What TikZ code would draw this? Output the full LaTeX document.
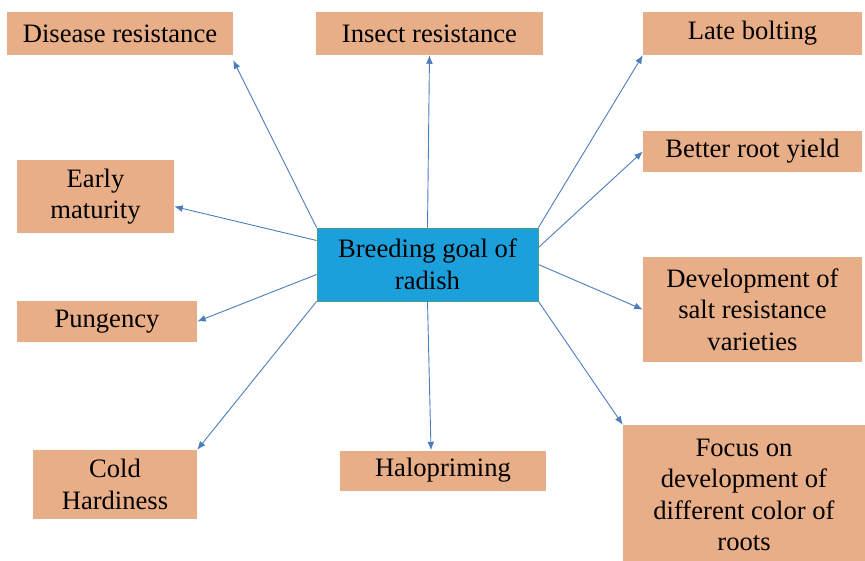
\documentclass[tikz,border=0pt]{standalone}
\usepackage{fontspec}
\setmainfont{Liberation Serif}
\usepackage{tikz}
\usetikzlibrary{arrows.meta}
\definecolor{goalblue}{HTML}{1CA0DC}
\definecolor{goalline}{HTML}{4A9E86}
\definecolor{aimfill}{HTML}{E8AE87}
\definecolor{linkblue}{HTML}{4A7EBB}

\begin{document}
\begin{tikzpicture}[x=1pt,y=-1pt,font=\fontsize{26.6}{31.5}\selectfont,>={Latex[length=3mm,width=2.4mm]},
  goal/.style={draw=goalline,line width=0.8pt,fill=goalblue,align=center,inner sep=0pt},
  aim/.style={fill=aimfill,align=center,inner sep=0pt},
  link/.style={->,draw=linkblue,line width=0.9pt}]
  \useasboundingbox (0,0) rectangle (865,560);
  \node[goal,minimum width=221,minimum height=73] (goal) at (427.5,264.5) {Breeding goal of\\radish};
  \node[aim,minimum width=226,minimum height=43] (dis) at (120,33.5) {Disease resistance};
  \node[aim,minimum width=227,minimum height=43] (ins) at (429.5,33.5) {Insect resistance};
  \node[aim,minimum width=219,minimum height=43] (late) at (752.5,33.5) {Late bolting};
  \node[aim,minimum width=219,minimum height=41] (root) at (752.5,151.5) {Better root yield};
  \node[aim,minimum width=157,minimum height=73] (early) at (95.5,196.5) {Early\\maturity};
  \node[aim,minimum width=219,minimum height=105] (salt) at (752.5,309.5) {Development of\\salt resistance\\varieties};
  \node[aim,minimum width=180,minimum height=41] (pung) at (107,321.5) {Pungency};
  \node[aim,minimum width=164,minimum height=69] (cold) at (115,484.5) {Cold\\Hardiness};
  \node[aim,minimum width=206,minimum height=40] (halo) at (443,470.5) {Halopriming};
  \node[aim,minimum width=242,minimum height=140] (focus) at (744,495) {Focus on\\development of\\different color of\\roots};
  % arrows out of the goal box
  \draw[link] (goal.north west) -- ([yshift=-5pt]dis.south east);
  \draw[link] (goal.north) -- (ins.south);
  \draw[link] (goal.north east) -- (late.south west);
  \draw[link] ([yshift=17pt]goal.east) -- (root.west);
  \draw[link] ([yshift=24pt]goal.west) -- ([yshift=-10pt]early.east);
  \draw[link] ([yshift=-10pt]goal.west) -- (pung.east);
  \draw[link] (goal.east) -- (salt.west);
  \draw[link] (goal.south west) -- (cold.north east);
  \draw[link] (goal.south) -- ([xshift=-12pt]halo.north);
  \draw[link] (goal.south east) -- (focus.north west);
\end{tikzpicture}
\end{document}
